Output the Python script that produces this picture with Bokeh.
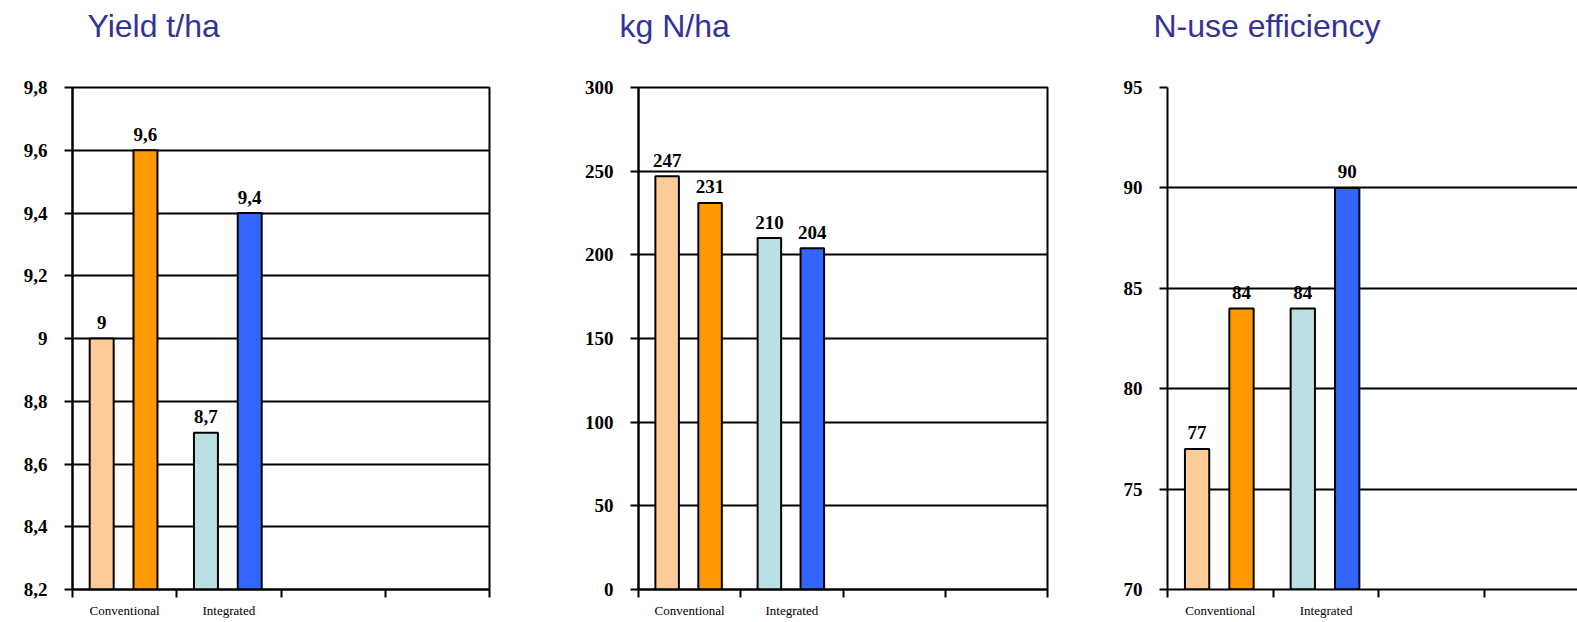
from bokeh.plotting import figure
from bokeh.layouts import row
from bokeh.models import (ColumnDataSource, FixedTicker, CustomJSTickFormatter,
                          Range1d, Title)
from bokeh.embed import file_html
from bokeh.resources import INLINE

# ---------------- data ----------------
categories = ["Conventional", "Integrated"]

yield_first = [9.0, 8.7]
yield_second = [9.6, 9.4]

nitrogen_first = [247, 210]
nitrogen_second = [231, 204]

nue_first = [77, 84]
nue_second = [84, 90]

first_colors = ["#FFCC99", "#BBE0E3"]
second_colors = ["#FF9900", "#3366FF"]

titles = ["Yield t/ha", "kg N/ha", "N-use efficiency"]
y_ticks_yield = [8.2, 8.4, 8.6, 8.8, 9.0, 9.2, 9.4, 9.6, 9.8]
y_ticks_n = [0, 50, 100, 150, 200, 250, 300]
y_ticks_nue = [70, 75, 80, 85, 90, 95]

n_slots = 4  # category slots on the x axis (two empty)

FIG_H = 622
TOP = 87
BOTTOM = 33


def fmt(v):
    return ("%g" % v).replace(".", ",")


def make_panel(title, first, second, yticks, width, bl, br, title_dx,
               x_end=4.0, outline=True):
    ystart, yend = yticks[0], yticks[-1]
    p = figure(width=width, height=FIG_H, output_backend="svg",
               toolbar_location=None, title=None,
               x_range=Range1d(0, x_end), y_range=Range1d(ystart, yend),
               min_border_left=bl, min_border_right=br,
               min_border_top=TOP, min_border_bottom=BOTTOM)
    p.background_fill_color = "white"
    p.border_fill_color = "white"
    if outline:
        p.outline_line_color = "black"
        p.outline_line_width = 2
    else:
        p.outline_line_color = None

    # spacer between frame and title, then the title itself
    p.add_layout(Title(text=" ", text_font_size="1px", standoff=34), "above")
    p.add_layout(Title(text=title, align="left", offset=title_dx,
                       vertical_align="top", standoff=10,
                       text_font="Liberation Sans", text_font_style="normal",
                       text_font_size="32px", text_color="#333399"), "above")

    # bars
    n = len(categories)
    src1 = ColumnDataSource(dict(x=[i + 0.28 for i in range(n)], top=first,
                                 color=first_colors,
                                 lab=[fmt(v) for v in first]))
    src2 = ColumnDataSource(dict(x=[i + 0.70 for i in range(n)], top=second,
                                 color=second_colors,
                                 lab=[fmt(v) for v in second]))
    for s in (src1, src2):
        p.vbar(x="x", top="top", bottom=ystart, width=0.23, source=s,
               fill_color="color", line_color="black", line_width=2)
        p.text(x="x", y="top", text="lab", source=s, text_align="center",
               text_baseline="alphabetic", y_offset=-16,
               text_font="Liberation Serif", text_font_style="bold",
               text_font_size="19px", text_color="black")

    # y axis
    p.yaxis.ticker = FixedTicker(ticks=yticks)
    p.yaxis.formatter = CustomJSTickFormatter(
        code="return String(Math.round(tick*10)/10).replace('.', ',');")
    p.yaxis.major_label_text_font = "Liberation Serif"
    p.yaxis.major_label_text_font_style = "bold"
    p.yaxis.major_label_text_font_size = "19px"
    p.yaxis.major_label_text_color = "black"
    p.yaxis.major_label_standoff = 17
    p.yaxis.major_tick_out = 8
    p.yaxis.major_tick_in = 0
    p.yaxis.major_tick_line_color = "black"
    p.yaxis.major_tick_line_width = 2
    p.yaxis.minor_tick_line_color = None
    p.yaxis.axis_line_color = "black"
    p.yaxis.axis_line_width = 2

    # x axis: labels centred on slots, ticks at slot boundaries
    p.xaxis.ticker = FixedTicker(ticks=[i + 0.5 for i in range(n_slots)],
                                 minor_ticks=list(range(n_slots + 1)))
    p.xaxis.formatter = CustomJSTickFormatter(
        args=dict(cats=categories),
        code="var c = cats[Math.floor(tick)]; return c ? c : '';")
    p.xaxis.major_label_text_font = "Liberation Serif"
    p.xaxis.major_label_text_font_size = "13px"
    p.xaxis.major_label_text_color = "black"
    p.xaxis.major_label_standoff = 5
    p.xaxis.major_tick_out = 0
    p.xaxis.major_tick_in = 0
    p.xaxis.major_tick_line_color = None
    p.xaxis.minor_tick_out = 8
    p.xaxis.minor_tick_in = 0
    p.xaxis.minor_tick_line_color = "black"
    p.xaxis.minor_tick_line_width = 2
    p.xaxis.axis_line_color = "black"
    p.xaxis.axis_line_width = 2

    # grid
    p.xgrid.grid_line_color = None
    p.ygrid.ticker = FixedTicker(ticks=yticks)
    p.ygrid.grid_line_color = "black"
    p.ygrid.grid_line_width = 2
    p.ygrid.grid_line_alpha = 1.0
    return p


p1 = make_panel(titles[0], yield_first, yield_second, y_ticks_yield,
                540, 72, 51, 15)
p2 = make_panel(titles[1], nitrogen_first, nitrogen_second, y_ticks_n,
                540, 98, 33, -19)
p3 = make_panel(titles[2], nue_first, nue_second, y_ticks_nue,
                497, 87, 0, -14, x_end=410 / 105.7, outline=False)

layout = row(p1, p2, p3)
open("out.html", "w").write(file_html(layout, INLINE))
